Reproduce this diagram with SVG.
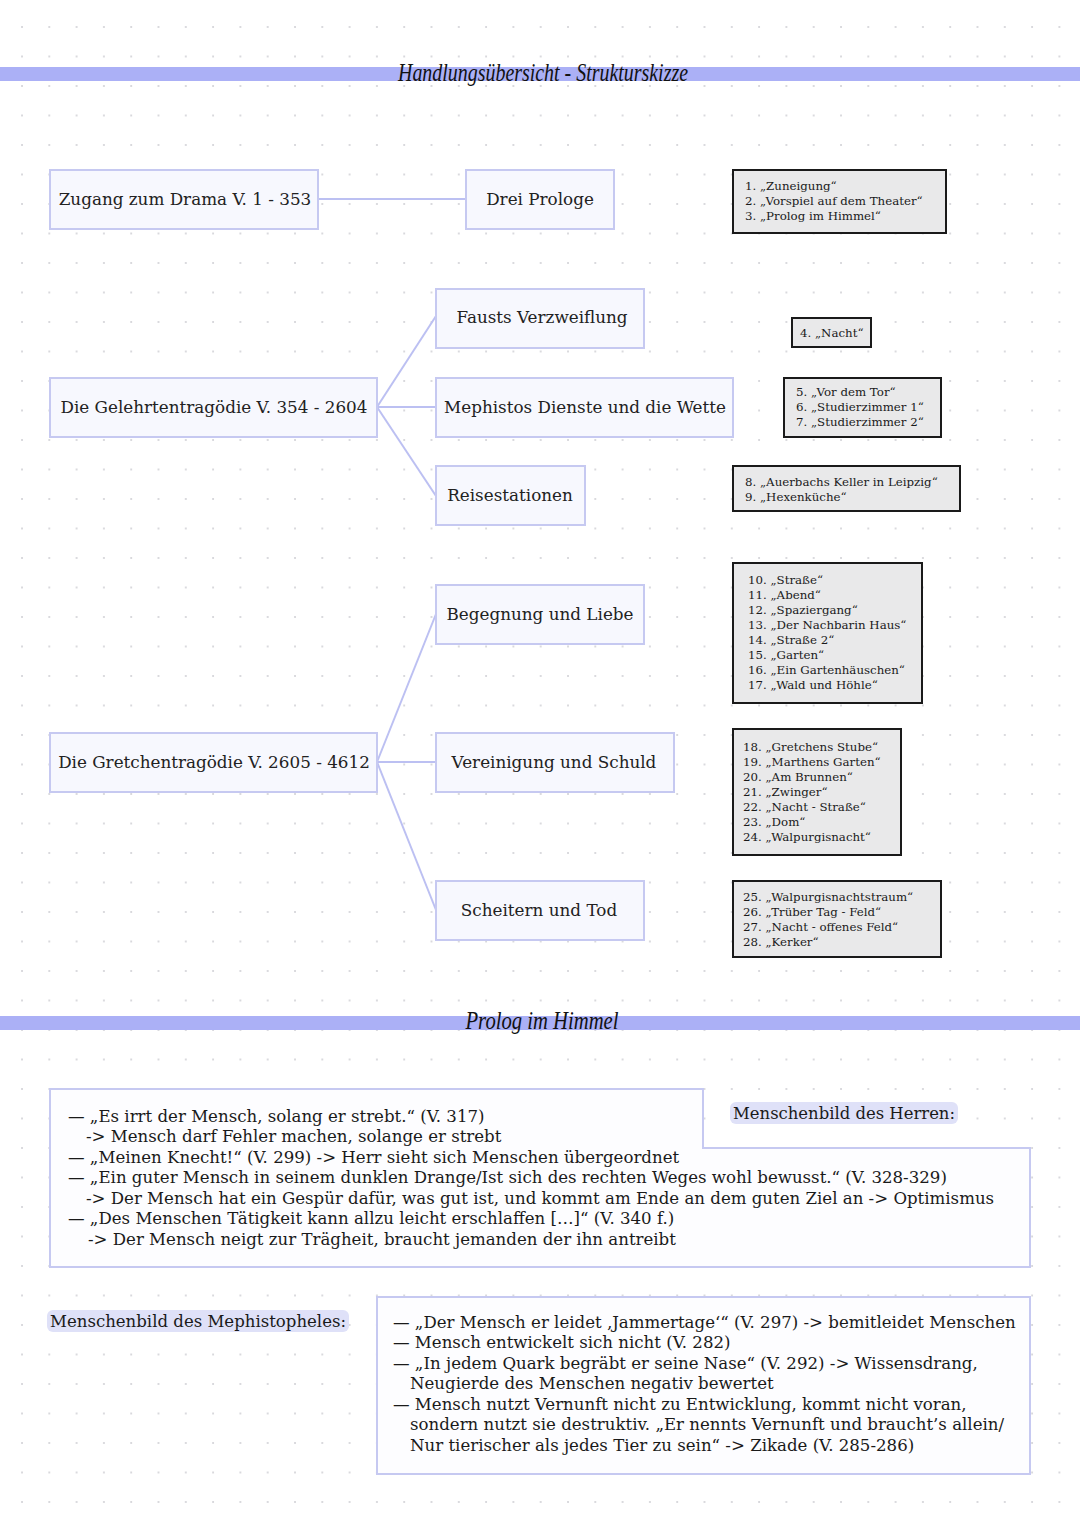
<svg xmlns="http://www.w3.org/2000/svg" width="1080" height="1525" viewBox="0 0 1080 1525">
<defs>
<pattern id="dots" x="21" y="26" width="27.3" height="29.5" patternUnits="userSpaceOnUse">
<circle cx="1" cy="1" r="1" fill="#cfcfd4"/>
</pattern>
<style>
.band{fill:#abb0f6}
.title{font-family:"Liberation Serif","DejaVu Serif",serif;font-style:italic;font-size:25px;fill:#111}
.node{fill:#f7f8fe;stroke:#c6c9f1;stroke-width:2}
.nt{font-family:"DejaVu Serif","Liberation Serif",serif;font-size:16.8px;fill:#222;text-anchor:middle}
.sbox{fill:#e9e9ea;stroke:#1a1a1a;stroke-width:2}
.st{font-family:"DejaVu Serif","Liberation Serif",serif;font-size:11.8px;fill:#1a1a1a}
.con{stroke:#bcc0f2;stroke-width:2;fill:none}
.frame{fill:#fdfdff;stroke:#c6c9f1;stroke-width:2}
.bt{font-family:"DejaVu Serif","Liberation Serif",serif;font-size:16.6px;fill:#1a1a1a}
.hl{fill:#dfe1f8}
</style>
</defs>
<rect width="1080" height="1525" fill="#ffffff"/>
<rect width="1080" height="1525" fill="url(#dots)"/>

<rect class="band" x="0" y="67" width="1080" height="14"/>
<text class="title" x="543" y="81" text-anchor="middle" textLength="290" lengthAdjust="spacingAndGlyphs">Handlungsübersicht - Strukturskizze</text>

<g id="connectors">
<line class="con" x1="318" y1="199" x2="466" y2="199"/>
<line class="con" x1="377" y1="407" x2="436" y2="316"/>
<line class="con" x1="377" y1="407" x2="436" y2="407"/>
<line class="con" x1="377" y1="407" x2="436" y2="496"/>
<line class="con" x1="377" y1="762" x2="436" y2="614"/>
<line class="con" x1="377" y1="762" x2="436" y2="762"/>
<line class="con" x1="377" y1="762" x2="436" y2="910"/>
</g>

<g id="n-zugang"><rect class="node" x="50" y="170" width="268" height="59"/><text class="nt" x="185" y="205">Zugang zum Drama V. 1 - 353</text></g>
<g id="n-prologe"><rect class="node" x="466" y="170" width="148" height="59"/><text class="nt" x="540" y="205">Drei Prologe</text></g>
<g id="s-1-3"><rect class="sbox" x="733" y="170" width="213" height="63"/>
<text class="st" x="745" y="190">1. „Zuneigung“</text>
<text class="st" x="745" y="205">2. „Vorspiel auf dem Theater“</text>
<text class="st" x="745" y="220">3. „Prolog im Himmel“</text></g>

<g id="n-verzweiflung"><rect class="node" x="436" y="289" width="208" height="59"/><text class="nt" x="542" y="323">Fausts Verzweiflung</text></g>
<g id="s-4"><rect class="sbox" x="792" y="318" width="79" height="29"/><text class="st" x="800" y="337">4. „Nacht“</text></g>

<g id="n-gelehrten"><rect class="node" x="50" y="378" width="327" height="59"/><text class="nt" x="214" y="413">Die Gelehrtentragödie V. 354 - 2604</text></g>
<g id="n-mephisto"><rect class="node" x="436" y="378" width="297" height="59"/><text class="nt" x="585" y="413">Mephistos Dienste und die Wette</text></g>
<g id="s-5-7"><rect class="sbox" x="784" y="378" width="157" height="59"/>
<text class="st" x="796" y="396">5. „Vor dem Tor“</text>
<text class="st" x="796" y="411">6. „Studierzimmer 1“</text>
<text class="st" x="796" y="426">7. „Studierzimmer 2“</text></g>

<g id="n-reise"><rect class="node" x="436" y="466" width="149" height="59"/><text class="nt" x="510" y="501">Reisestationen</text></g>
<g id="s-8-9"><rect class="sbox" x="733" y="466" width="227" height="45"/>
<text class="st" x="745" y="486">8. „Auerbachs Keller in Leipzig“</text>
<text class="st" x="745" y="501">9. „Hexenküche“</text></g>

<g id="n-begegnung"><rect class="node" x="436" y="585" width="208" height="59"/><text class="nt" x="540" y="620">Begegnung und Liebe</text></g>
<g id="s-10-17"><rect class="sbox" x="733" y="563" width="189" height="140"/>
<text class="st" x="748" y="584">10. „Straße“</text>
<text class="st" x="748" y="599">11. „Abend“</text>
<text class="st" x="748" y="614">12. „Spaziergang“</text>
<text class="st" x="748" y="629">13. „Der Nachbarin Haus“</text>
<text class="st" x="748" y="644">14. „Straße 2“</text>
<text class="st" x="748" y="659">15. „Garten“</text>
<text class="st" x="748" y="674">16. „Ein Gartenhäuschen“</text>
<text class="st" x="748" y="689">17. „Wald und Höhle“</text></g>

<g id="n-gretchen"><rect class="node" x="50" y="733" width="327" height="59"/><text class="nt" x="214" y="768">Die Gretchentragödie V. 2605 - 4612</text></g>
<g id="n-vereinigung"><rect class="node" x="436" y="733" width="238" height="59"/><text class="nt" x="554" y="768">Vereinigung und Schuld</text></g>
<g id="s-18-24"><rect class="sbox" x="733" y="729" width="168" height="126"/>
<text class="st" x="743" y="751">18. „Gretchens Stube“</text>
<text class="st" x="743" y="766">19. „Marthens Garten“</text>
<text class="st" x="743" y="781">20. „Am Brunnen“</text>
<text class="st" x="743" y="796">21. „Zwinger“</text>
<text class="st" x="743" y="811">22. „Nacht - Straße“</text>
<text class="st" x="743" y="826">23. „Dom“</text>
<text class="st" x="743" y="841">24. „Walpurgisnacht“</text></g>

<g id="n-scheitern"><rect class="node" x="436" y="881" width="208" height="59"/><text class="nt" x="539" y="916">Scheitern und Tod</text></g>
<g id="s-25-28"><rect class="sbox" x="733" y="881" width="208" height="76"/>
<text class="st" x="743" y="901">25. „Walpurgisnachtstraum“</text>
<text class="st" x="743" y="916">26. „Trüber Tag - Feld“</text>
<text class="st" x="743" y="931">27. „Nacht - offenes Feld“</text>
<text class="st" x="743" y="946">28. „Kerker“</text></g>

<rect class="band" x="0" y="1016" width="1080" height="14"/>
<text class="title" x="542" y="1029" text-anchor="middle" textLength="153" lengthAdjust="spacingAndGlyphs">Prolog im Himmel</text>

<g id="herr">
<path class="frame" d="M50,1089 H703 V1148 H1030 V1267 H50 Z"/>
<rect class="hl" x="730" y="1102" width="228" height="22" rx="6"/>
<text class="bt" x="733" y="1119" textLength="222" lengthAdjust="spacingAndGlyphs">Menschenbild des Herren:</text>
<text class="bt" x="68" y="1122">— „Es irrt der Mensch, solang er strebt.“ (V. 317)</text>
<text class="bt" x="86" y="1142">-&gt; Mensch darf Fehler machen, solange er strebt</text>
<text class="bt" x="68" y="1163">— „Meinen Knecht!“ (V. 299) -&gt; Herr sieht sich Menschen übergeordnet</text>
<text class="bt" x="68" y="1183">— „Ein guter Mensch in seinem dunklen Drange/Ist sich des rechten Weges wohl bewusst.“ (V. 328-329)</text>
<text class="bt" x="86" y="1204">-&gt; Der Mensch hat ein Gespür dafür, was gut ist, und kommt am Ende an dem guten Ziel an -&gt; Optimismus</text>
<text class="bt" x="68" y="1224">— „Des Menschen Tätigkeit kann allzu leicht erschlaffen […]“ (V. 340 f.)</text>
<text class="bt" x="88" y="1245">-&gt; Der Mensch neigt zur Trägheit, braucht jemanden der ihn antreibt</text>
</g>

<g id="mephisto">
<rect class="hl" x="47" y="1310" width="302" height="22" rx="6"/>
<text class="bt" x="50" y="1327" textLength="296" lengthAdjust="spacingAndGlyphs">Menschenbild des Mephistopheles:</text>
<rect class="frame" x="377" y="1297" width="653" height="177"/>
<text class="bt" x="393" y="1328">— „Der Mensch er leidet ‚Jammertage‘“ (V. 297) -&gt; bemitleidet Menschen</text>
<text class="bt" x="393" y="1348">— Mensch entwickelt sich nicht (V. 282)</text>
<text class="bt" x="393" y="1369">— „In jedem Quark begräbt er seine Nase“ (V. 292) -&gt; Wissensdrang,</text>
<text class="bt" x="410" y="1389">Neugierde des Menschen negativ bewertet</text>
<text class="bt" x="393" y="1410">— Mensch nutzt Vernunft nicht zu Entwicklung, kommt nicht voran,</text>
<text class="bt" x="410" y="1430">sondern nutzt sie destruktiv. „Er nennts Vernunft und braucht’s allein/</text>
<text class="bt" x="410" y="1451">Nur tierischer als jedes Tier zu sein“ -&gt; Zikade (V. 285-286)</text>
</g>
</svg>
